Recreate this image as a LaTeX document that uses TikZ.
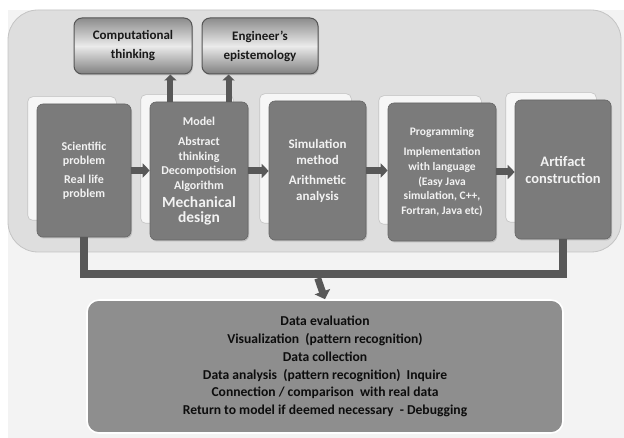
\documentclass[tikz,border=0pt]{standalone}
\usepackage{fontspec}
\setmainfont{Carlito}
\usetikzlibrary{arrows.meta,shadows,calc,backgrounds}
\definecolor{canvas}{HTML}{F3F3F3}
\definecolor{panelfill}{HTML}{DEDEDE}
\definecolor{paneledge}{HTML}{C4C4C4}
\definecolor{stagefill}{HTML}{7B7B7B}
\definecolor{stageedge}{HTML}{666666}
\definecolor{stagetext}{HTML}{F2F2F2}
\definecolor{stackfill}{HTML}{F6F6F6}
\definecolor{stackedge}{HTML}{C2C2C2}
\definecolor{linkgray}{HTML}{585858}
\definecolor{outfill}{HTML}{8E8E8E}
\definecolor{topedge}{HTML}{555555}
\newcommand{\bigline}{\fontsize{15.5}{18}\selectfont}
\tikzset{
  stage/.style={rounded corners=6pt, fill=stagefill, draw=stageedge, line width=0.6pt,
    text=stagetext, align=center, inner sep=2pt,
    font=\bfseries\fontsize{12}{14.5}\selectfont,
    drop shadow={shadow xshift=1pt, shadow yshift=-1.5pt, opacity=0.35}},
  stackbox/.style={rounded corners=5pt, fill=stackfill, draw=stackedge, line width=0.6pt},
  topbox/.style={rounded corners=8pt, draw=topedge, line width=1pt,
    top color=black!45, bottom color=black!50, middle color=black!8,
    text=black!90, align=center, font=\bfseries\fontsize{13}{19}\selectfont,
    drop shadow={shadow xshift=1pt, shadow yshift=-1.5pt, opacity=0.3}},
  outbox/.style={rounded corners=12pt, fill=outfill, draw=white, line width=1.6pt,
    text=black!95, align=center, font=\bfseries\fontsize{13.6}{17.8}\selectfont},
  flow/.style={draw=linkgray, line width=7pt, -{Triangle[width=14pt,length=7pt]}},
  upflow/.style={draw=linkgray, line width=6pt, -{Triangle[width=12pt,length=6pt]}},
  bus/.style={draw=linkgray, line width=8pt}
}
\begin{document}
\begin{tikzpicture}[x=1pt,y=-1pt]
\useasboundingbox (0,0) rectangle (624,438);

% stage boxes of the process chain
\node[stage, minimum width=94pt, minimum height=133pt] (b1) at (84,170.5)
  {Scientific\\problem\\[4pt]Real life\\problem};
\node[stage, minimum width=98pt, minimum height=138pt] (b2) at (199,171)
  {Model\\[6pt]Abstract\\thinking\\Decompotision\\Algorithm\\[4pt]
   \bigline Mechanical\\\bigline design};
\node[stage, minimum width=97pt, minimum height=139pt, font=\bfseries\fontsize{13}{16}\selectfont] (b3) at (317.5,170.5)
  {Simulation\\method\\[4pt]Arithmetic\\analysis};
\node[stage, minimum width=108pt, minimum height=138pt, font=\bfseries\fontsize{11.5}{14.8}\selectfont] (b4) at (442,172)
  {Programming\\[5pt]Implementation\\with language\\(Easy Java\\simulation, C++,\\Fortran, Java etc)};
\node[stage, minimum width=96pt, minimum height=139pt, font=\bfseries\fontsize{14.5}{17}\selectfont] (b5) at (563,169.5)
  {Artifact\\construction};

% outcome boxes above the model stage
\node[topbox, minimum width=118pt, minimum height=56pt] (ct) at (133,46) {Computational\\thinking};
\node[topbox, minimum width=116pt, minimum height=56pt] (ee) at (260,46) {Engineer's\\epistemology};

% evaluation box
\node[outbox, minimum width=476pt, minimum height=133pt] (ev) at (325,366.5)
  {Data evaluation\\Visualization\ \ (pattern recognition)\\Data collection\\
   Data analysis\ \ (pattern recognition)\ \ Inquire\\Connection / comparison\ \ with real data\\
   Return to model if deemed necessary\ \ - Debugging};

\begin{scope}[on background layer]
  \fill[white] (0,0) rectangle (624,438);
  \fill[canvas] (8,10) rectangle (624,438);
  \draw[paneledge, fill=panelfill, line width=0.8pt, rounded corners=30pt] (8,10) rectangle (621,252);
  \foreach \b in {b1,b2,b3,b4,b5}
    \draw[stackbox] ($(\b.north west)+(-9,-7)$) rectangle ($(\b.south east)+(-15,-17)$);
\end{scope}

% connectors between stages
\draw[flow] (b1.east) -- (b1.east -| b2.west);
\draw[flow] (b2.east) -- (b2.east -| b3.west);
\draw[flow] (b3.east) -- (b3.east -| b4.west);
\draw[flow] (b4.east) -- (b4.east -| b5.west);

\coordinate (u1) at ($(b2.north west)!0.21!(b2.north east)$);
\coordinate (u2) at ($(b2.north west)!0.80!(b2.north east)$);
\draw[upflow] (u1) -- (u1 |- ct.south);
\draw[upflow] (u2) -- (u2 |- ee.south);

% collecting bus from first and last stage
\draw[bus, line cap=butt] (b1.south) -- ++(0,37) coordinate (busl) -| (b5.south);
\coordinate (bus) at ($(busl)!0.488!(busl -| b5.south)$);
\draw[flow, -{Triangle[width=16pt,length=8pt]}] ($(bus)+(0,4)$) -- (ev.north);
\end{tikzpicture}
\end{document}
